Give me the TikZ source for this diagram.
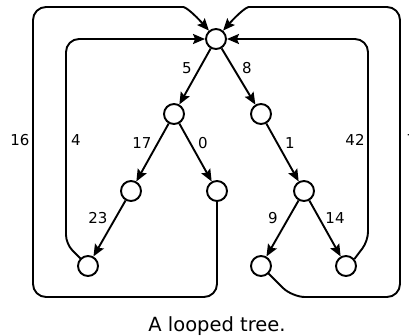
\documentclass[tikz,border=0pt]{standalone}
\usepackage{fontspec}
\setmainfont{DejaVu Sans}
\usetikzlibrary{arrows.meta}
\begin{document}
\begin{tikzpicture}[x=1pt,y=-1pt,
  vertex/.style={circle,draw,line width=1.9pt,minimum size=20pt,inner sep=0pt,fill=white},
  link/.style={line width=1.9pt,-{Stealth[length=12pt,width=10pt,inset=2pt]}},
  backloop/.style={link,rounded corners=13pt},
  lbl/.style={font=\fontsize{15}{15}\selectfont,inner sep=0pt,anchor=base},
  caption/.style={font=\fontsize{19.5}{19.5}\selectfont,inner sep=0pt,anchor=base}]
\useasboundingbox (0,0) rectangle (409,335);

% tree vertices
\node[vertex] (root) at (216,39) {};
\node[vertex] (a) at (174,114) {};
\node[vertex] (b) at (261,114) {};
\node[vertex] (c) at (131,191) {};
\node[vertex] (d) at (217,191) {};
\node[vertex] (e) at (304,191) {};
\node[vertex] (f) at (88,266) {};
\node[vertex] (g) at (261,266) {};
\node[vertex] (h) at (346,266) {};

% tree edges
\draw[link] (root) -- (a);
\draw[link] (root) -- (b);
\draw[link] (a) -- (c);
\draw[link] (a) -- (d);
\draw[link] (b) -- (e);
\draw[link] (c) -- (f);
\draw[link] (e) -- (g);
\draw[link] (e) -- (h);

% loops from the leaves back to the root
\draw[backloop] (d.south) -- (217,297) -- (33,297) -- (33,7) -- (170,7)
  [rounded corners=0pt] .. controls (186,7) and (195,15) .. (root.130);
\draw[backloop] (f.135) [rounded corners=9pt] -- (66,244) [rounded corners=13pt] -- (66,39) -- (root);
\draw[backloop] (h.40) [rounded corners=9pt] -- (368,241) [rounded corners=13pt] -- (368,39) -- (root);
\draw[backloop] (g.-45) -- (292,297) -- (400,297) -- (400,7) -- (262,7)
  [rounded corners=0pt] .. controls (246,7) and (237,15) .. (root.50);

% edge weights
\node[lbl] (w5) at (187,73) {5};
\node[lbl] (w8) at (247,73) {8};
\node[lbl] (w17) at (142,148) {17};
\node[lbl] (w0) at (203,148) {0};
\node[lbl] (w1) at (290,148) {1};
\node[lbl] (w23) at (98,223) {23};
\node[lbl] (w9) at (273,223) {9};
\node[lbl] (w14) at (335,223) {14};
\node[lbl] (w16) at (20,145) {16};
\node[lbl] (w4) at (76,145) {4};
\node[lbl] (w42) at (355,145) {42};
\node[lbl,anchor=base west] (wr) at (406.3,145) {7};

\node[caption] (cap) at (217,331) {A looped tree.};
\end{tikzpicture}
\end{document}
